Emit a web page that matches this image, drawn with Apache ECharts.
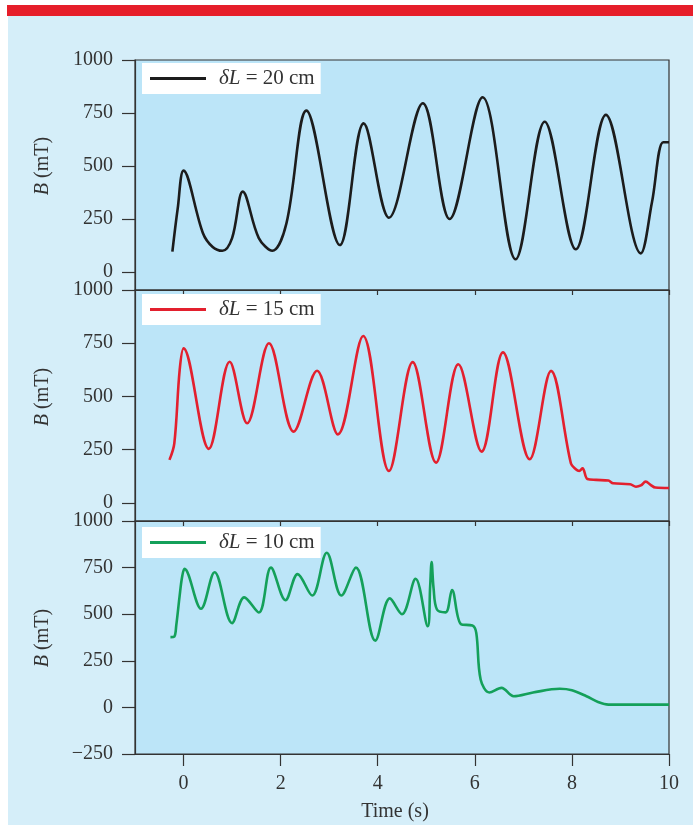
<!DOCTYPE html>
<html>
<head>
<meta charset="utf-8">
<script src="https://cdn.jsdelivr.net/npm/echarts@6/dist/echarts.min.js"></script>
<style>
html, body { margin: 0; padding: 0; background: #fff; }
#main { width: 693px; height: 825px; }
</style>
</head>
<body>
<div id="main"></div>
<script>
// δL = 20 cm
var time20 = [-0.23, -0.12, 0, 0.4, 0.6, 0.8, 1.0, 1.22, 1.55, 1.83, 2.12, 2.53, 3.22,
    3.71, 4.23, 4.93, 5.48, 6.16, 6.84, 7.44, 8.08, 8.7, 9.42, 9.65, 9.88, 10.0];
var field20 = [96, 300, 478, 183, 118, 100, 160, 379, 160, 100, 230, 761, 127,
    701, 256, 796, 250, 824, 60, 709, 107, 741, 88, 330, 612, 612];

// δL = 15 cm
var time15 = [-0.29, -0.19, -0.08, 0, 0.52, 0.95, 1.31, 1.76, 2.27, 2.75, 3.18, 3.70, 4.23, 4.72, 5.20,
    5.66, 6.14, 6.58, 7.13, 7.57, 7.98, 8.08, 8.15, 8.22, 8.32, 8.5, 8.75, 8.85, 9.2, 9.32, 9.42,
    9.52, 9.62, 9.72, 10];
var field15 = [202, 280, 624, 726, 254, 663, 374, 750, 335, 621, 322, 784, 150, 661, 189,
    651, 241, 707, 205, 620, 185, 158, 150, 162, 112, 108, 105, 92, 88, 76, 82,
    100, 85, 72, 70];

// δL = 10 cm
var time10 = [-0.27, -0.19, -0.15, -0.08, -0.03, 0.02, 0.36, 0.64, 1.0, 1.25, 1.55, 1.8, 2.1, 2.35, 2.65,
    2.95, 3.25, 3.55, 3.95, 4.25, 4.5, 4.78, 5.03, 5.08, 5.11, 5.15, 5.22, 5.4, 5.53, 5.72, 5.95,
    6.03, 6.12, 6.3, 6.55, 6.8, 7.2, 7.75, 8.0, 8.3, 8.55, 8.75, 10];
var field10 = [377, 380, 440, 600, 700, 743, 529, 725, 452, 590, 509, 750, 575, 715, 600,
    830, 600, 750, 358, 585, 500, 690, 435, 650, 780, 640, 525, 510, 630, 445, 440,
    400, 150, 80, 105, 60, 80, 100, 92, 60, 28, 15, 15];

var seriesNames = ['δL = 20 cm', 'δL = 15 cm', 'δL = 10 cm'];
var seriesColors = ['#1c1c1c', '#e3202e', '#14a05a'];
var xTicks = [0, 2, 4, 6, 8, 10];
var yTicks = [0, 250, 500, 750, 1000];
var yTicksLow = [-250, 0, 250, 500, 750, 1000];

var serif = 'Liberation Serif';
var ink = '#333';

function pairs(t, v) {
    return t.map(function (x, i) { return [x, v[i]]; });
}

var panels = [
    {top: 60, height: 230, min: -85, ticks: yTicks, legendTop: 63, data: pairs(time20, field20), nameY: 166},
    {top: 290, height: 231, min: -85, ticks: yTicks, legendTop: 294, data: pairs(time15, field15), nameY: 397},
    {top: 521, height: 233, min: -250, ticks: yTicksLow, legendTop: 527, data: pairs(time10, field10), nameY: 638}
];

var myChart = echarts.init(document.getElementById('main'));

var option = {
    backgroundColor: '#fff',
    animation: false,
    grid: [], xAxis: [], yAxis: [], series: [], legend: [],
    graphic: [
        {type: 'rect', z: -10, shape: {x: 8, y: 16, width: 685, height: 809}, style: {fill: '#d5eef9'}},
        {type: 'rect', z: -10, shape: {x: 7, y: 5, width: 686, height: 11}, style: {fill: '#e61e2a'}},
        {
            type: 'text', x: 395, y: 812,
            style: {text: 'Time (s)', font: '20px "Liberation Serif"', fill: ink, align: 'center', verticalAlign: 'middle'}
        }
    ]
};

panels.forEach(function (p, i) {
    option.grid.push({
        left: 135, width: 534, top: p.top, height: p.height,
        show: true, backgroundColor: '#bce5f8', borderColor: ink, borderWidth: 1.2
    });
    option.xAxis.push({
        gridIndex: i, type: 'value', min: -1, max: 10,
        axisLine: {show: true, onZero: false, lineStyle: {color: ink, width: 1.2}},
        axisTick: {show: true, customValues: xTicks, length: i === 2 ? 12 : 5, lineStyle: {color: ink, width: 1.2}},
        axisLabel: {show: i === 2, customValues: xTicks, margin: 20, fontFamily: serif, fontSize: 20, color: ink},
        splitLine: {show: false}
    });
    option.yAxis.push({
        gridIndex: i, type: 'value', min: p.min, max: 1000,
        axisLine: {show: true, onZero: false, lineStyle: {color: ink, width: 1.2}},
        axisTick: {show: true, customValues: p.ticks, length: 13, lineStyle: {color: ink, width: 1.2}},
        axisLabel: {
            customValues: p.ticks, margin: 22, fontFamily: serif, fontSize: 20, color: ink,
            formatter: function (v) { return v < 0 ? '\u2212' + Math.abs(v) : String(v); }
        },
        splitLine: {show: false}
    });
    option.series.push({
        name: seriesNames[i], type: 'line', xAxisIndex: i, yAxisIndex: i,
        data: p.data, showSymbol: false, smooth: 0.35,
        color: seriesColors[i], lineStyle: {width: 2.6, color: seriesColors[i]}
    });
    option.legend.push({
        data: [seriesNames[i]], left: 142, top: p.legendTop, selectedMode: false,
        backgroundColor: '#fff', padding: [5, 6, 5, 8], icon: 'rect', itemWidth: 56, itemHeight: 3,
        formatter: function (name) { return '{i|δL} = ' + name.split('= ')[1]; },
        textStyle: {
            fontFamily: serif, fontSize: 21, color: ink, padding: [0, 0, 0, 8],
            rich: {i: {fontFamily: serif, fontSize: 21, fontStyle: 'italic', color: ink}}
        }
    });
    option.graphic.push({
        type: 'text', x: 43, y: p.nameY, rotation: Math.PI / 2,
        style: {
            text: '{b|B} (mT)', font: '20px "Liberation Serif"', fill: ink, align: 'center', verticalAlign: 'middle',
            rich: {b: {fontStyle: 'italic', fontFamily: serif, fontSize: 20, fill: ink}}
        }
    });
});

myChart.setOption(option);
window.onresize = function () {
    myChart.resize();
};
</script>
</body>
</html>
